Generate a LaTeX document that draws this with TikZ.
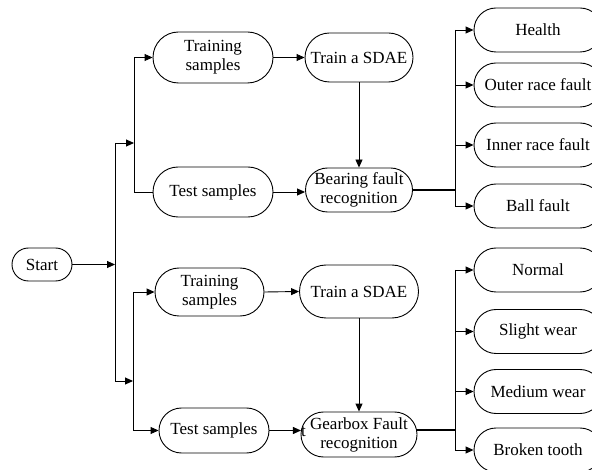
\documentclass[tikz,border=0pt]{standalone}
\usepackage{fontspec}
\setmainfont{Liberation Serif}
\usetikzlibrary{shapes.misc,arrows.meta}
\begin{document}
\begin{tikzpicture}[x=1pt,y=-1pt,
  box/.style={draw, rounded rectangle, inner sep=0pt, align=center,
    font=\fontsize{17}{19}\selectfont, line width=0.9pt},
  outbox/.style={box, minimum width=128, minimum height=44},
  arr/.style={-{Triangle[length=8pt,width=7pt]}, line width=0.9pt},
  wire/.style={line width=0.9pt},
  bus/.style={line width=2pt}]
\clip (0,0) rectangle (592,470);
\fill[white] (0,0) rectangle (592,470);

% start
\node[box, minimum width=60, minimum height=33] (start) at (42,264.5) {Start};

% bearing branch
\node[box, minimum width=120, minimum height=51] (tr1) at (213,57.5) {Training\\samples};
\node[box, minimum width=120, minimum height=50] (te1) at (213,192) {Test samples};
\node[box, minimum width=108, minimum height=49] (sd1) at (359,57.5) {Train a SDAE};
\node[box, minimum width=107, minimum height=44] (br) at (359,190) {Bearing fault\\recognition};
\node[outbox] (h1) at (538,30) {Health};
\node[outbox] (h2) at (538,85) {Outer race fault};
\node[outbox] (h3) at (538,145) {Inner race fault};
\node[outbox] (h4) at (538,206) {Ball fault};

% gearbox branch
\node[box, minimum width=109, minimum height=48] (tr2) at (209.5,292) {Training\\samples};
\node[box, minimum width=110, minimum height=45] (te2) at (214,430.5) {Test samples};
\node[box, minimum width=119, minimum height=53] (sd2) at (359,291.5) {Train a SDAE};
\node[box, minimum width=116, minimum height=45] (gb) at (359,434.5) {Gearbox Fault\\recognition};
\node[inner sep=0pt, font=\fontsize{17}{19}\selectfont] (tmark) at (303.5,432) {t};
\node[outbox] (g1) at (538,270) {Normal};
\node[outbox] (g2) at (538,331.5) {Slight wear};
\node[outbox] (g3) at (538,391.5) {Medium wear};
\node[outbox] (g4) at (538,450) {Broken tooth};

% junction points
\coordinate (ja) at (115,143);
\coordinate (jb) at (115,381);
\coordinate (bu) at (134,143);
\coordinate (bl) at (133,381);
\coordinate (ou) at (455,190);
\coordinate (ol) at (455,430);

% start to both branches
\draw[arr] (start.east) -- (ja |- start.east);
\draw[wire] (ja) -- (jb);
\draw[arr] (ja) -- (bu);
\draw[arr] (jb) -- (bl);

% bearing wiring
\draw[wire] (bu |- tr1) -- (bu |- te1) -- (te1.west);
\draw[arr] (bu |- tr1) -- (tr1.west);
\draw[arr] (tr1.east) -- (sd1.west);
\draw[arr] (te1.east) -- (br.west |- te1.east);
\draw[arr] (sd1.south) -- (br.north);
\draw[bus] (br.east) -- (ou);
\draw[wire] (ou |- h1) -- (ou |- h4);
\foreach \n in {h1,h2,h3,h4} \draw[arr] (ou |- \n) -- (\n.west);

% gearbox wiring
\draw[wire] (bl |- tr2) -- (bl |- te2);
\draw[arr] (bl |- tr2) -- (tr2.west);
\draw[arr] (bl |- te2) -- (te2.west);
\draw[arr] (tr2.east) -- (sd2.west);
\draw[arr] (te2.east) -- (tmark.west |- te2.east);
\draw[arr] (sd2.south) -- (gb.north);
\draw[bus] (ol -| gb.east) -- (ol);
\draw[wire] (ou |- g1) -- (ou |- g4);
\foreach \n in {g1,g2,g3,g4} \draw[arr] (ou |- \n) -- (\n.west);
\end{tikzpicture}
\end{document}
